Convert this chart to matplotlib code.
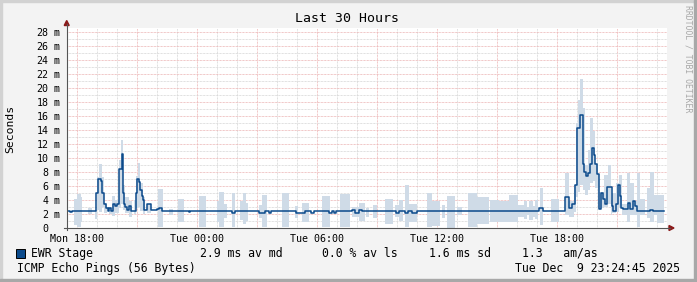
import numpy as np
import matplotlib
matplotlib.use("Agg")
import matplotlib.pyplot as plt
from matplotlib.patches import Rectangle, Polygon

# --- data (time in hours since Mon 00:00, values in ms) ---
# median RTT, step changes (value holds until the next time)
med_t = [17.47, 17.65, 17.74, 18.95, 19.04, 19.20, 19.25, 19.32, 19.42, 19.52,
         19.60, 19.70, 19.77, 19.87, 19.99, 20.10, 20.22, 20.30, 20.34, 20.40,
         20.50, 20.57, 20.69, 20.94, 21.00, 21.10, 21.15, 21.24, 21.29, 21.35,
         21.50, 21.70, 21.97, 22.07, 22.24, 23.57, 23.65, 25.74, 25.87, 27.07,
         27.40, 27.57, 27.70, 28.94, 29.40, 29.70, 29.85, 30.57, 30.74, 30.82,
         30.94, 31.74, 31.90, 32.07, 32.24, 33.94, 34.07, 34.40, 34.54, 34.74,
         34.99, 36.99, 37.60, 37.70, 38.44, 38.65, 39.24, 39.40, 41.10, 41.27,
         42.40, 42.60, 42.72, 42.87, 42.97, 43.12, 43.26, 43.35, 43.44, 43.54,
         43.65, 43.72, 43.82, 43.90, 43.98, 44.08, 44.17, 44.28, 44.38, 44.48,
         44.72, 44.80, 44.95, 45.02, 45.12, 45.19, 45.28, 45.52, 45.65, 45.78,
         45.86, 45.98, 46.65, 46.80, 47.34]
med_v = [2.4, 2.3, 2.4, 5.0, 7.0, 6.7, 5.0, 3.4, 2.8, 2.4,
         2.9, 2.4, 3.4, 3.1, 3.4, 8.4, 10.6, 5.0, 3.4, 3.0,
         2.6, 3.1, 2.5, 5.0, 7.0, 6.6, 5.4, 4.6, 4.0, 2.6,
         3.4, 2.6, 2.7, 2.9, 2.4, 2.3, 2.4, 2.2, 2.4, 2.2,
         2.4, 2.2, 2.4, 2.2, 2.4, 2.2, 2.4, 2.2, 2.4, 2.2,
         2.4, 2.6, 2.2, 2.6, 2.4, 2.2, 2.4, 2.2, 2.4, 2.2,
         2.4, 2.5, 2.4, 2.5, 2.4, 2.5, 2.4, 2.5, 2.8, 2.5,
         4.5, 2.8, 3.4, 6.2, 14.3, 16.2, 9.1, 8.0, 7.4, 7.9,
         9.2, 11.4, 10.5, 9.1, 7.7, 2.7, 5.0, 4.1, 3.4, 5.8,
         3.1, 2.5, 3.4, 6.2, 4.6, 2.9, 2.7, 3.6, 2.7, 3.9,
         3.1, 2.5, 2.6, 2.5, 2.5]

# smoke (spread of the pings): start, end, low, high
smoke_t0 = [17.82, 17.99, 18.19, 18.54, 18.87, 19.00, 19.10, 19.24, 19.34, 19.57,
            19.74, 19.90, 20.10, 20.20, 20.27, 20.40, 20.57, 20.82, 20.94, 21.04,
            21.14, 21.27, 21.50, 22.04, 22.60, 23.04, 24.07, 24.99, 25.10, 25.32,
            25.74, 26.15, 26.27, 26.44, 27.07, 27.24, 28.24, 28.87, 29.24, 30.24,
            31.12, 31.74, 32.07, 32.44, 32.79, 33.40, 33.90, 34.10, 34.37, 34.57,
            35.49, 35.74, 36.24, 36.49, 36.99, 37.54, 37.99, 38.62, 39.10, 39.57,
            40.04, 40.32, 40.50, 40.60, 40.80, 40.90, 41.15, 41.70, 42.40, 42.57,
            42.82, 42.92, 43.04, 43.15, 43.27, 43.37, 43.54, 43.65, 43.77, 43.90,
            44.04, 44.10, 44.32, 44.54, 44.67, 44.74, 44.94, 45.07, 45.24, 45.49,
            45.65, 45.82, 45.99, 46.15, 46.49, 46.65, 46.82, 46.99]
smoke_t1 = [17.99, 18.19, 18.25, 18.74, 19.00, 19.10, 19.24, 19.34, 19.49, 19.74,
            19.90, 20.10, 20.20, 20.27, 20.40, 20.57, 20.74, 20.94, 21.04, 21.14,
            21.27, 21.40, 21.70, 22.27, 22.77, 23.32, 24.44, 25.10, 25.32, 25.49,
            25.90, 26.27, 26.44, 26.54, 27.24, 27.49, 28.60, 29.04, 29.60, 30.65,
            31.65, 32.07, 32.40, 32.60, 32.99, 33.77, 34.10, 34.27, 34.57, 34.99,
            35.74, 36.15, 36.40, 36.90, 37.24, 37.99, 38.57, 39.07, 39.57, 40.04,
            40.32, 40.50, 40.60, 40.80, 40.90, 41.04, 41.27, 42.07, 42.57, 42.82,
            42.92, 43.04, 43.15, 43.27, 43.37, 43.54, 43.65, 43.77, 43.90, 44.04,
            44.10, 44.32, 44.54, 44.67, 44.74, 44.94, 45.07, 45.24, 45.49, 45.65,
            45.82, 45.99, 46.15, 46.40, 46.65, 46.82, 46.99, 47.34]
smoke_lo = [0.4, 0.2, 0.9, 2.0, 1.3, 2.6, 2.3, 3.0, 2.1, 2.0,
            1.7, 2.1, 2.8, 3.5, 2.6, 2.1, 1.6, 2.0, 2.8, 3.0,
            2.5, 2.0, 2.2, 0.2, 1.9, 0.9, 0.2, 0.9, 0.1, 1.4,
            0.1, 1.2, 0.6, 1.0, 1.4, 0.2, 0.1, 1.4, 0.9, 0.1,
            0.2, 1.6, 1.0, 1.6, 1.4, 0.6, 1.6, 1.0, 0.1, 0.9,
            0.1, 0.3, 1.4, 0.0, 1.9, 0.2, 0.6, 0.8, 0.9, 0.8,
            1.6, 1.3, 1.8, 1.1, 1.6, 1.3, 0.4, 0.9, 1.9, 1.6,
            2.3, 4.5, 5.2, 6.1, 5.4, 4.7, 5.4, 6.4, 6.7, 5.7,
            2.8, 2.8, 3.0, 3.5, 1.9, 2.1, 2.3, 3.0, 1.9, 0.9,
            1.9, 1.9, 0.2, 1.9, 1.4, 0.9, 1.9, 0.7]
smoke_hi = [4.2, 4.9, 4.4, 2.8, 2.6, 7.3, 9.2, 7.3, 3.6, 3.0,
            4.6, 4.0, 9.7, 12.6, 6.1, 4.5, 3.8, 4.0, 7.5, 9.3,
            6.5, 4.5, 3.5, 5.6, 2.7, 4.1, 4.6, 3.8, 5.2, 3.5,
            5.0, 3.8, 5.0, 3.6, 3.3, 4.7, 5.0, 3.1, 3.6, 4.6,
            4.8, 3.0, 3.6, 2.8, 3.3, 4.2, 3.3, 4.0, 6.1, 3.5,
            5.0, 3.8, 3.3, 4.6, 3.0, 5.0, 4.5, 4.0, 3.9, 4.7,
            3.3, 3.9, 3.0, 3.9, 3.2, 4.0, 5.7, 4.2, 7.8, 3.8,
            6.1, 15.0, 18.3, 21.3, 17.1, 9.0, 11.1, 15.7, 13.8, 9.2,
            7.6, 5.2, 7.6, 9.0, 4.0, 5.0, 6.4, 7.6, 3.5, 7.8,
            6.4, 3.8, 7.8, 4.2, 5.7, 8.0, 4.7, 4.7]

x_start, x_end = 17.47, 47.47
y_top = 28.6
x_ticks = [18, 21, 24, 27, 30, 33, 36, 39, 42, 45]
x_labels = ["Mon 18:00", "", "Tue 00:00", "", "Tue 06:00", "",
            "Tue 12:00", "", "Tue 18:00", ""]
y_ticks = list(range(0, 29, 2))

legend_stats = [("2.9 ms av md", 200), ("0.0 % av ls", 321.7),
                ("1.6 ms sd", 428.7), ("1.3   am/as", 522)]

# --- figure ---
W, H = 697, 282
def fx(px): return px / W
def fy(py): return 1 - py / H

plt.rcParams['font.family'] = ['DejaVu Sans Mono']
fig = plt.figure(figsize=(W / 100, H / 100), dpi=100, facecolor='#f3f3f3')

ax = fig.add_axes([fx(66.7), fy(228), 600 / W, 200 / H])
ax.set_facecolor('white')
ax.set_xlim(x_start, x_end)
ax.set_ylim(0, y_top)

dot = (0, (0.72, 0.72))
ax.set_xticks(x_ticks)
ax.set_xticklabels(x_labels, fontsize=7.2, color='black')
ax.set_xticks(np.arange(18, 48, 1), minor=True)
ax.set_yticks(y_ticks)
ax.set_yticklabels([str(v) for v in y_ticks], fontsize=7.2)
ax.set_yticks(np.arange(0, 29, 1), minor=True)
ax.tick_params(which='both', length=0)
ax.tick_params(axis='x', pad=4)
ax.tick_params(axis='y', pad=13.2)
ax.grid(which='minor', color='#d6d6d6', ls=dot, lw=0.72)
ax.grid(which='major', color='#ecb4b4', ls=dot, lw=0.72)
ax.set_axisbelow(True)
for s in ax.spines.values():
    s.set_visible(False)

ytr = ax.get_yaxis_transform()
for v in y_ticks[1:]:
    ax.text(-12.7 / 600, v, "m", transform=ytr, fontsize=7.2,
            ha='left', va='center_baseline')

# smoke and median
ax.bar(smoke_t0, np.subtract(smoke_hi, smoke_lo), bottom=smoke_lo,
       width=np.subtract(smoke_t1, smoke_t0), align='edge',
       color='#cfdbe7', linewidth=0, zorder=2)
ax.step(med_t, med_v, where='post', color='#0b4a8b', lw=1.1, zorder=3)

ax.set_ylabel("Seconds", fontsize=8.2, va='center')
ax.yaxis.set_label_coords((10.5 - 66.7) / 600, (228 - 128.5) / 200)

# axes lines with arrows
fig.add_artist(plt.Line2D([fx(66.7), fx(66.7)], [fy(230), fy(24)], color='#555555', lw=0.8))
fig.add_artist(plt.Line2D([fx(64), fx(670)], [fy(228), fy(228)], color='#555555', lw=0.8))
fig.add_artist(Polygon([(fx(64.2), fy(25.5)), (fx(69.2), fy(25.5)), (fx(66.7), fy(20.5))],
                       closed=True, color='#8b1a1a', transform=fig.transFigure))
fig.add_artist(Polygon([(fx(669), fy(225.5)), (fx(669), fy(230.5)), (fx(674), fy(228))],
                       closed=True, color='#8b1a1a', transform=fig.transFigure))

# title and side text
fig.text(fx(347), fy(19), "Last 30 Hours", fontsize=9.5, ha='center', va='center')
fig.text(fx(688.3), fy(59), "RRDTOOL / TOBI OETIKER", fontsize=5.9, rotation=270,
         color='#a8a8a8', ha='center', va='center')

# legend
fig.add_artist(Rectangle((fx(16), fy(258)), 9 / W, 9 / H, facecolor='#0b4a8b',
                         edgecolor='black', lw=0.7, transform=fig.transFigure))
fig.text(fx(30.7), fy(253.5), "EWR Stage", fontsize=8.3, ha='left', va='center')
for txt, xp in legend_stats:
    fig.text(fx(xp), fy(253.5), txt, fontsize=8.3, ha='left', va='center')
fig.text(fx(16.7), fy(268.3), "ICMP Echo Pings (56 Bytes)", fontsize=8.3, ha='left', va='center')
fig.text(fx(680.3), fy(268.3), "Tue Dec  9 23:24:45 2025", fontsize=8.3, ha='right', va='center')

# bevelled frame
fig.add_artist(Rectangle((0, fy(2)), 1, 2 / H, color='#d2d2d2', transform=fig.transFigure))
fig.add_artist(Rectangle((0, 0), 2 / W, 1, color='#d2d2d2', transform=fig.transFigure))
fig.add_artist(Rectangle((0, 0), 1, 3 / H, color='#a8a8a8', transform=fig.transFigure))
fig.add_artist(Rectangle((fx(694), 0), 3 / W, 1, color='#a8a8a8', transform=fig.transFigure))

fig.savefig("out.png", dpi=100, facecolor=fig.get_facecolor())
